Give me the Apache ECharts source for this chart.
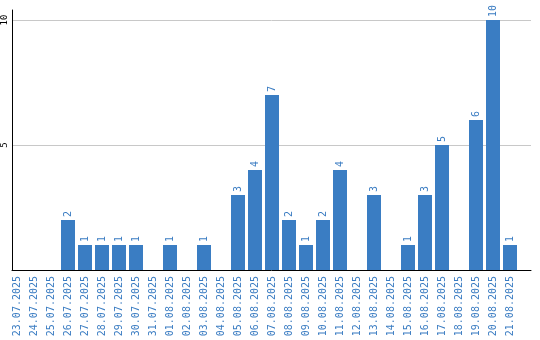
<!DOCTYPE html>
<html><head><meta charset="utf-8">
<script src="https://cdn.jsdelivr.net/npm/echarts@6/dist/echarts.min.js"></script>
<style>html,body{margin:0;padding:0;background:#fff}#c{width:540px;height:340px}</style>
</head><body><div id="c"></div>
<script>
var categories = ["23.07.2025","24.07.2025","25.07.2025","26.07.2025","27.07.2025","28.07.2025","29.07.2025","30.07.2025","31.07.2025","01.08.2025","02.08.2025","03.08.2025","04.08.2025","05.08.2025","06.08.2025","07.08.2025","08.08.2025","09.08.2025","10.08.2025","11.08.2025","12.08.2025","13.08.2025","14.08.2025","15.08.2025","16.08.2025","17.08.2025","18.08.2025","19.08.2025","20.08.2025","21.08.2025"];
var values = [0,0,0,2,1,1,1,1,0,1,0,1,0,3,4,7,2,1,2,4,0,3,0,1,3,5,0,6,10,1];
var yTicks = [0,5,10];
var chart = echarts.init(document.getElementById('c'));
var font = 'DejaVu Sans Mono';
var blue = '#3a7cc2';
chart.setOption({
  animation:false,
  grid:[
    {left:10,right:9,top:10,bottom:70,containLabel:false},
    {left:8.5,right:21.5,top:10,bottom:70,containLabel:false}
  ],
  xAxis:[
    {type:'value',gridIndex:0,min:0,max:1,
      axisLine:{show:true,onZero:false,lineStyle:{color:'#000',width:1}},axisTick:{show:false},
      axisLabel:{show:false},splitLine:{show:false}},
    {type:'category',gridIndex:1,data:categories,
      axisLine:{show:false},axisTick:{show:false},
      axisLabel:{rotate:90,color:blue,fontFamily:font,fontSize:10,margin:6,interval:0}}
  ],
  yAxis:[
    {type:'value',gridIndex:0,min:0,max:10.4,interval:5,
      axisLine:{show:true,lineStyle:{color:'#000',width:1}},axisTick:{show:false},
      splitLine:{show:true,showMinLine:false,showMaxLine:false,lineStyle:{color:'#c8c8c8'}},
      axisLabel:{showMaxLabel:false,rotate:90,color:'#000',fontFamily:font,fontSize:9,margin:3,
        formatter:function(v){return yTicks.indexOf(v)>=0 && v>0 ? String(v) : '';}}},
    {type:'value',gridIndex:1,min:0,max:10.4,interval:5,show:false}
  ],
  series:[{type:'bar',xAxisIndex:1,yAxisIndex:1,z:3,
    data:values.map(function(v){return v===0?null:v;}),barWidth:14,
    itemStyle:{color:'#3a7dc3'},
    label:{show:true,position:'top',rotate:90,align:'left',verticalAlign:'middle',distance:3,
      color:blue,fontFamily:font,fontSize:10}}]
});
</script></body></html>
